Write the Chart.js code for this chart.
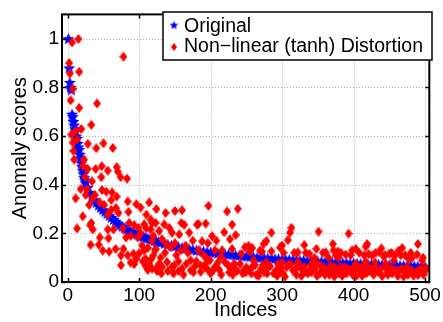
<!DOCTYPE html>
<html>
<head>
<meta charset="utf-8">
<script src="https://cdn.jsdelivr.net/npm/chart.js@4.4.1/dist/chart.umd.min.js"></script>
<style>
  html, body { margin: 0; padding: 0; background: #fff; }
  #wrap { width: 443px; height: 322px; }
</style>
</head>
<body>
<div id="wrap"><canvas id="anomalyChart" width="443" height="322"></canvas></div>
<script>
// axis ticks
const xTicks = [0, 100, 200, 300, 400, 500];
const yTicks = [0, 0.2, 0.4, 0.6, 0.8, 1];
const seriesNames = ['Original', 'Non\u2212linear (tanh) Distortion'];

// sorted anomaly scores of the original data [index, score]
const originalPts = [
  [1, 1.00], [2, 0.88], [3, 0.82], [4, 0.80], [5, 0.79], [6, 0.69], [7, 0.68], [8, 0.66],
  [9, 0.645], [10, 0.63], [11, 0.62], [12, 0.60], [13, 0.59], [14, 0.57], [15, 0.555],
  [16, 0.545], [17, 0.525], [18, 0.51], [19, 0.49], [20, 0.475], [21, 0.46], [22, 0.445],
  [23, 0.43], [24, 0.42], [25, 0.41], [28, 0.388], [31, 0.368], [34, 0.352], [37, 0.338],
  [40, 0.326], [43, 0.316], [46, 0.306], [49, 0.297], [52, 0.289], [55, 0.281], [58, 0.273],
  [61, 0.265], [64, 0.257], [67, 0.249], [70, 0.241], [73, 0.234], [76, 0.228], [79, 0.222],
  [82, 0.217], [85, 0.212], [88, 0.207], [91, 0.203], [94, 0.199], [97, 0.196], [100, 0.193],
  [103, 0.189], [106, 0.186], [109, 0.182], [112, 0.179], [115, 0.176], [118, 0.173],
  [121, 0.17], [124, 0.167], [127, 0.165], [130, 0.162], [135, 0.158], [140, 0.154],
  [145, 0.15], [150, 0.147], [155, 0.144], [160, 0.141], [165, 0.138], [170, 0.135],
  [175, 0.133], [180, 0.13], [185, 0.128], [190, 0.126], [195, 0.124], [200, 0.122],
  [205, 0.12], [210, 0.118], [215, 0.116], [220, 0.115], [225, 0.113], [230, 0.112],
  [235, 0.11], [240, 0.109], [245, 0.107], [250, 0.106], [255, 0.104], [260, 0.103],
  [265, 0.101], [270, 0.1], [275, 0.099], [280, 0.098], [285, 0.097], [290, 0.096],
  [295, 0.095], [300, 0.094], [305, 0.093], [310, 0.092], [315, 0.091], [320, 0.09],
  [325, 0.089], [330, 0.088], [335, 0.087], [340, 0.086], [345, 0.085], [350, 0.085],
  [355, 0.084], [360, 0.083], [365, 0.082], [370, 0.081], [375, 0.08], [380, 0.08],
  [385, 0.079], [390, 0.078], [395, 0.077], [400, 0.077], [405, 0.076], [410, 0.075],
  [415, 0.075], [420, 0.074], [425, 0.073], [430, 0.073], [435, 0.072], [440, 0.071],
  [445, 0.071], [450, 0.07], [455, 0.069], [460, 0.069], [465, 0.068], [470, 0.067],
  [475, 0.067], [480, 0.066], [485, 0.065], [490, 0.065], [495, 0.064], [500, 0.063]
];

// scores after the tanh distortion [index, score]
const distortedPts = [
  [2, .90], [3, .857], [4, .747], [5, .606], [6, .985], [7, .794], [7, .573], [8, .539],
  [9, .503], [11, .62], [11, .344], [13, .586], [13, .22], [15, .999], [16, .864], [16, .716],
  [18, .382], [19, .629], [21, .27], [21, .478], [22.7, .503], [24.5, .431], [25, .358],
  [27, .382], [28, .568], [28, .465], [30, .317], [31.5, .233], [32, .153], [33, .646],
  [33, .243], [34, .414], [35, .344], [35, .216], [38, .358], [39, .465], [40, .55], [41, .734],
  [43.5, .153], [45, .327], [45, .183], [47, .431], [47.6, .476], [48, .378], [49, .129],
  [50, .57], [51, .317], [54, .371], [56, .458], [56, .277], [56, .216], [57, .18], [58, .125],
  [61, .337], [61, .297], [62, .368], [63, .551], [64, .216], [67, .136], [67.6, .304],
  [68.5, .472], [68.5, .351], [70, .454], [71, .284], [74, .431], [74.5, .109], [74.5, .069],
  [77, .22], [78, .926], [78, .136], [81.5, .183], [83, .425], [84, .331], [84, .109],
  [85, .288], [86, .243], [88, .19], [88, .08], [92, .116], [93, .234], [93, .073], [96, .32],
  [96, .095], [98, .183], [99, .223], [100, .118], [102, .306], [102, .2], [104, .15],
  [105, .085], [107, .129], [107, .237], [109, .095], [109, .065], [110, .277], [110, .22],
  [112, .14], [112, .05], [114, .075], [114, .327], [116, .257], [116, .216], [117, .095],
  [118, .243], [118, .17], [118, .055], [120, .11], [120, .19], [122, .13], [123, .243],
  [123, .135], [124, .3], [125, .045], [125.5, .062],
  [128, .075], [128, .21], [130, .1], [131, .035], [132, .176], [132, .062], [135, .237],
  [136, .12], [137, .284], [138, .155], [139, .082], [140, .045], [142, .223], [144, .143],
  [146, .203], [146, .062], [148, .035], [149, .068], [150, .292], [150, .16], [152, .11],
  [155, .085], [155, .045], [156, .196], [158, .13], [159, .243], [160, .295], [160, .055],
  [162, .03], [163, .235], [165, .15], [166, .075], [168, .12], [170, .203], [172, .089],
  [172, .048], [175, .17], [176, .04], [178, .065], [180, .085], [181, .236], [183, .238],
  [183, .13], [186, .068], [186, .042], [188, .167], [190, .11], [192, .06], [193, .24],
  [193, .076], [195, .095], [196, .16], [197, .313], [197, .048], [199, .09], [200, .035],
  [202, .189], [204, .05], [206, .13], [206, .062], [208, .17], [210, .08],
  [212, .05], [214, .102], [215, .03], [216, .13], [219, .205], [220, .082], [223, .29],
  [224, .07], [226, .04], [227, .176], [228, .06], [230, .236], [230, .136], [231, .03],
  [233, .075], [234, .055], [235, .193], [237, .045], [238, .301], [241, .075], [243, .116],
  [245, .035], [246, .048], [248, .143], [249, .04], [250, .06], [253, .149], [254, .05],
  [255, .125], [257, .035], [258, .14], [259, .065], [260, .089], [262, .07], [264, .03],
  [267, .025], [268, .04], [269, .129], [271, .055], [272, .125], [273, .07], [274, .156],
  [275, .04], [278, .169], [278, .08], [279, .035], [280, .06], [283, .065], [285, .203],
  [285, .126], [288, .035], [292, .05], [293, .025], [294, .075], [297, .142], [298, .04],
  [299, .06], [300, .08], [300, .15], [301, .035], [302, .12], [304, .022], [306, .06],
  [308, .172], [309, .07], [311, .203], [312, .075], [313, .223], [315, .048], [317, .12],
  [319, .055], [320, .03], [322, .122], [322, .082], [324, .065], [327, .025], [328, .05],
  [331, .152], [331, .062], [332, .04], [333, .12], [336, .035], [338, .116], [339, .05],
  [340, .07],
  [341, .04], [343, .082], [344, .065], [345, .1], [346, .05], [348, .136], [349, .025],
  [350, .075], [351, .207], [353, .035], [354, .065], [356, .045], [357, .12], [358, .06],
  [360, .03], [361, .122], [361, .048], [364, .05], [365, .1], [366, .03], [368, .065],
  [369, .045], [371, .156], [372, .13], [373, .022], [373, .062], [374, .04], [375, .109],
  [377, .05], [378, .125], [379, .1], [380, .035], [381, .06], [382, .12], [384, .025],
  [385, .048], [387, .06], [389, .113], [390, .035], [391, .055], [393, .199], [395, .05],
  [396, .11], [398, .13], [399, .029], [400, .06], [401, .045], [403, .075], [403, .136],
  [404, .025], [405, .06], [408, .12], [409, .055], [410, .04], [412, .025], [413, .065],
  [414, .045], [415, .11], [417, .145], [417, .082], [418, .035], [419, .156], [420, .06],
  [421, .115], [422, .045], [424, .055], [426, .109], [426, .042], [428, .03], [429, .06],
  [430, .08], [431, .12], [432, .05], [435, .04], [436, .122], [438, .055], [439, .138],
  [440, .024], [442, .105], [444, .11], [445, .075], [446, .055], [447, .04], [448, .03],
  [450, .116], [452, .056], [453, .12], [454, .035], [456, .089], [457, .05], [458, .11],
  [460, .045], [462, .025], [463, .129], [464, .045], [466, .11], [467, .055], [468, .14],
  [470, .022], [471, .05], [472, .11], [473, .04], [475, .06], [476, .03], [477, .095],
  [478, .05], [480, .12], [481, .048], [482, .1], [484, .025], [487, .04], [489, .113],
  [490, .156], [490, .029], [491, .05], [494, .045], [495, .055], [496, .089], [497, .1],
  [498, .03], [500, .045], [501, .059]
];

const fontFamily = "'Liberation Sans', Arial, Helvetica, sans-serif";

// filled pentagram marker
function makeStar(r, color) {
  const s = Math.ceil(r * 2) + 2;
  const c = document.createElement('canvas');
  c.width = s; c.height = s;
  const g = c.getContext('2d');
  g.fillStyle = color;
  g.beginPath();
  for (let i = 0; i < 10; i++) {
    const rad = i % 2 ? r * 0.45 : r;
    const a = -Math.PI / 2 + i * Math.PI / 5;
    const px = s / 2 + rad * Math.cos(a);
    const py = s / 2 + 0.5 + rad * Math.sin(a);
    if (i === 0) g.moveTo(px, py); else g.lineTo(px, py);
  }
  g.closePath();
  g.fill();
  return c;
}

// filled diamond marker
function makeDiamond(w, h, color) {
  const c = document.createElement('canvas');
  c.width = w; c.height = h;
  const g = c.getContext('2d');
  g.fillStyle = color;
  g.beginPath();
  g.moveTo(w / 2, 0);
  g.lineTo(w, h / 2);
  g.lineTo(w / 2, h);
  g.lineTo(0, h / 2);
  g.closePath();
  g.fill();
  return c;
}

const starImg = makeStar(6.3, '#0000ff');
const diamondImg = makeDiamond(8, 10, '#ff0000');
const legendStar = makeStar(4.5, '#0000ff');
const legendDiamond = makeDiamond(6, 8, '#ff0000');

// grid, box with inner ticks, and the legend (matlab style)
const matlabAxes = {
  id: 'matlabAxes',
  beforeDatasetsDraw(chart) {
    const { ctx, chartArea: a, scales: { x, y } } = chart;
    ctx.save();
    ctx.strokeStyle = '#b4b4b4';
    ctx.lineWidth = 1;
    ctx.setLineDash([1, 2]);
    ctx.beginPath();
    xTicks.forEach(v => {
      const px = Math.round(x.getPixelForValue(v)) + 0.5;
      ctx.moveTo(px, a.top); ctx.lineTo(px, a.bottom);
    });
    yTicks.forEach(v => {
      const py = Math.round(y.getPixelForValue(v)) + 0.5;
      ctx.moveTo(a.left, py); ctx.lineTo(a.right, py);
    });
    ctx.stroke();
    ctx.restore();
  },
  afterDatasetsDraw(chart) {
    const { ctx, chartArea: a, scales: { x, y } } = chart;
    ctx.save();
    ctx.strokeStyle = '#000';
    ctx.lineWidth = 1.5;
    ctx.beginPath();
    const tl = 4;
    xTicks.forEach(v => {
      const px = Math.round(x.getPixelForValue(v)) + 0.5;
      ctx.moveTo(px, a.bottom); ctx.lineTo(px, a.bottom - tl);
      ctx.moveTo(px, a.top); ctx.lineTo(px, a.top + tl);
    });
    yTicks.forEach(v => {
      const py = Math.round(y.getPixelForValue(v)) + 0.5;
      ctx.moveTo(a.left, py); ctx.lineTo(a.left + tl, py);
      ctx.moveTo(a.right, py); ctx.lineTo(a.right - tl, py);
    });
    ctx.stroke();
    ctx.lineWidth = 2;
    ctx.strokeRect(a.left, a.top, a.right - a.left, a.bottom - a.top);
    ctx.restore();
  },
  afterDraw(chart) {
    const { ctx } = chart;
    const box = { x: 163, y: 12, w: 269, h: 48 };
    ctx.save();
    ctx.fillStyle = '#fff';
    ctx.fillRect(box.x, box.y, box.w, box.h);
    ctx.strokeStyle = '#000';
    ctx.lineWidth = 1.5;
    ctx.strokeRect(box.x, box.y, box.w, box.h);
    ctx.drawImage(legendStar, 174 - legendStar.width / 2, 25 - legendStar.height / 2);
    ctx.drawImage(legendDiamond, 174 - legendDiamond.width / 2, 47 - legendDiamond.height / 2);
    ctx.fillStyle = '#000';
    ctx.font = '19.5px ' + fontFamily;
    ctx.textBaseline = 'alphabetic';
    ctx.fillText(seriesNames[0], 184, 32);
    ctx.fillText(seriesNames[1], 184, 52);
    ctx.restore();
  }
};

document.addEventListener('DOMContentLoaded', function () {
  const ctx = document.getElementById('anomalyChart').getContext('2d');
  const tickFont = { family: fontFamily, size: 19 };
  const titleFont = { family: fontFamily, size: 20 };

  const anomalyChart = new Chart(ctx, {
    type: 'scatter',
    data: {
      datasets: [{
        label: seriesNames[0],
        data: originalPts.map(p => ({ x: p[0], y: p[1] })),
        pointStyle: starImg,
        order: 2
      }, {
        label: seriesNames[1],
        data: distortedPts.map(p => ({ x: p[0], y: p[1] })),
        pointStyle: diamondImg,
        order: 1
      }]
    },
    options: {
      responsive: false,
      animation: false,
      events: [],
      layout: { padding: { left: 0, right: 11, top: 10, bottom: 0 } },
      plugins: {
        legend: { display: false },
        tooltip: { enabled: false }
      },
      scales: {
        x: {
          type: 'linear',
          min: -8,
          max: 506,
          grid: { display: false, drawTicks: false },
          border: { display: false },
          afterBuildTicks: s => { s.ticks = xTicks.map(v => ({ value: v })); },
          afterFit: s => { s.height = 40; },
          ticks: {
            color: '#000', font: tickFont, padding: 2,
            maxRotation: 0, autoSkip: false,
            callback: v => String(v)
          },
          title: {
            display: true, text: 'Indices', color: '#000', font: titleFont,
            padding: { top: 0, bottom: 0 }
          }
        },
        y: {
          type: 'linear',
          min: 0,
          max: 1.1,
          grid: { display: false, drawTicks: false },
          border: { display: false },
          afterBuildTicks: s => { s.ticks = yTicks.map(v => ({ value: v })); },
          afterFit: s => { s.width = 62; },
          ticks: {
            color: '#000', font: tickFont, padding: 3,
            callback: v => String(Number(v.toFixed(1)))
          },
          title: {
            display: true, text: 'Anomaly scores', color: '#000', font: titleFont,
            padding: { top: 8, bottom: 0 }
          }
        }
      }
    },
    plugins: [matlabAxes]
  });
});
</script>
</body>
</html>
